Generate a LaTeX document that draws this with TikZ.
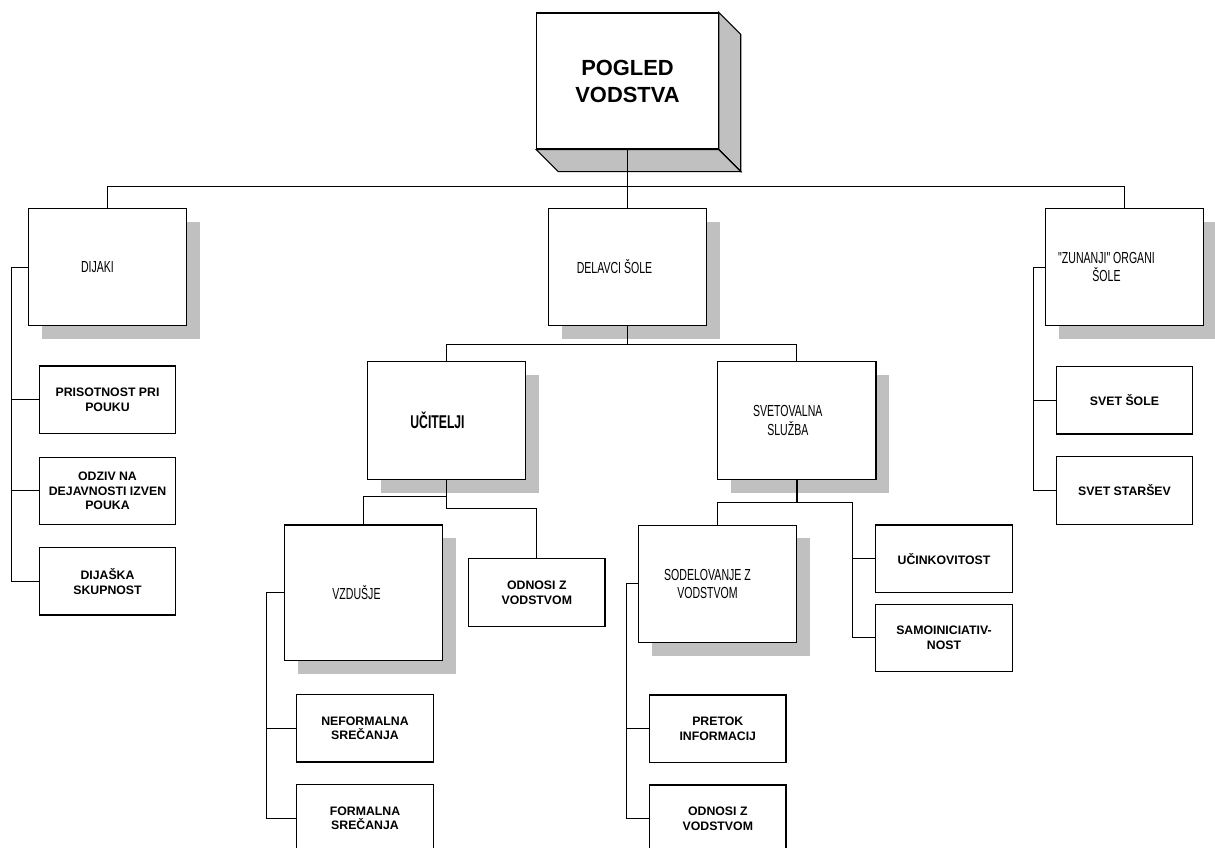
\documentclass[tikz,border=0pt]{standalone}
\usepackage{fontspec}
\setmainfont{Liberation Sans}
\newfontfamily\narrowfamily[FakeStretch=0.66]{Liberation Sans}
\usepackage{tikz}
\usetikzlibrary{positioning,calc,shadows}
\definecolor{shadowgray}{RGB}{192,192,192}
\newcommand{\pogledfont}{\bfseries\fontsize{21.9}{27}\selectfont}
\newcommand{\malifont}{\bfseries\fontsize{12.3}{14.8}\selectfont}
\newcommand{\velikifont}{\narrowfamily\fontsize{16}{18.5}\selectfont}

\begin{document}
\begin{tikzpicture}[x=1pt,y=-1pt,
    bigbox/.style={draw,line width=1.2pt,fill=white,minimum width=158.4,minimum height=117.4,
      drop shadow={shadow xshift=13.3pt,shadow yshift=-13.3pt,fill=shadowgray,opacity=1}},
    bigtext/.style={font=\velikifont,align=center,inner sep=0},
    smallbox/.style={draw,line width=1.2pt,fill=white,minimum width=136.4,minimum height=67.4,
      font=\malifont,align=center,inner sep=0},
    link/.style={line width=0.9pt}]
      \useasboundingbox (0,0) rectangle (1215,847);
      \clip (0,0) rectangle (1215,847);

      \node[draw,line width=1.2pt,fill=white,minimum width=181.3,minimum height=136,
        font=\pogledfont,align=center] (pogled) at (627.5,81) {POGLED\\VODSTVA};
      \filldraw[fill=shadowgray,line width=1.2pt] (pogled.north east) -- ++(22,22)
        -- ([shift={(22,22)}]pogled.south east) -- (pogled.south east) -- cycle;
      \filldraw[fill=shadowgray,line width=1.2pt] (pogled.south west) -- ++(22,22)
        -- ([shift={(22,22)}]pogled.south east) -- (pogled.south east) -- cycle;

      \node[bigbox] (dijaki) at (107.5,267) {};
      \node[bigbox] (delavci) at (627.5,267) {};
      \node[bigbox] (zunanji) at (1124.5,267) {};
      \node[bigbox] (ucitelji) at (446.5,420.5) {};
      \node[bigbox] (svetovalna) at (796.8,420.5) {};
      \node[bigbox,minimum height=135.3] (vzdusje) at (363.5,592.7) {};
      \node[bigbox] (sodelovanje) at (717.5,583.8) {};

      \node[bigtext] (dijaki-t) at ([xshift=-10]dijaki.center) {DIJAKI};
      \node[bigtext] (delavci-t) at ([xshift=-13]delavci.center) {DELAVCI ŠOLE};
      \node[bigtext] (zunanji-t) at ([xshift=-18]zunanji.center) {"ZUNANJI" ORGANI\\ŠOLE};
      \node[bigtext,font=\narrowfamily\bfseries\fontsize{18.5}{21}\selectfont] (ucitelji-t)
        at ([xshift=-9]ucitelji.center) {UČITELJI};
      \node[bigtext] (svetovalna-t) at ([xshift=-9]svetovalna.center) {SVETOVALNA\\SLUŽBA};
      \node[bigtext] (vzdusje-t) at ([xshift=-7]vzdusje.center) {VZDUŠJE};
      \node[bigtext] (sodelovanje-t) at ([xshift=-10]sodelovanje.center) {SODELOVANJE Z\\VODSTVOM};

      \node[smallbox] (prisotnost) at (107.5,399.7) {PRISOTNOST PRI\\POUKU};
      \node[smallbox] (odziv) at (107.5,490.8) {ODZIV NA\\DEJAVNOSTI IZVEN\\POUKA};
      \node[smallbox] (dijaska) at (107.5,581.3) {DIJAŠKA\\SKUPNOST};
      \node[smallbox] (svetsole) at (1124.5,400.3) {SVET ŠOLE};
      \node[smallbox] (svetstarsev) at (1124.5,490.5) {SVET STARŠEV};
      \node[smallbox] (odnosiA) at (536.8,592.5) {ODNOSI Z\\VODSTVOM};
      \node[smallbox] (neformalna) at (365,728.3) {NEFORMALNA\\SREČANJA};
      \node[smallbox] (formalna) at (365,818.3) {FORMALNA\\SREČANJA};
      \node[smallbox] (pretok) at (717.8,728.7) {PRETOK\\INFORMACIJ};
      \node[smallbox] (odnosiB) at (717.8,818.7) {ODNOSI Z\\VODSTVOM};
      \node[smallbox] (ucink) at (944,558.7) {UČINKOVITOST};
      \node[smallbox] (samo) at (944,637.8) {SAMOINICIATIV-\\NOST};

      \coordinate (bus) at (627.5,186);
      \draw[link] (pogled.south) -- (delavci.north);
      \draw[link] (dijaki.north) -- (dijaki.north |- bus) -- (zunanji.north |- bus) -- (zunanji.north);

      \draw[link] (delavci.south) -- ++(0,18) coordinate (dsplit) -| (ucitelji.north);
      \draw[link] (dsplit) -| (svetovalna.north);

      \draw[link] (ucitelji.south) -- ++(0,28.4) -| (odnosiA.north);
      \draw[link] (ucitelji.south) ++(0,17) -| (vzdusje.north);

      \draw[line width=1.8pt] (svetovalna.south) -- ++(0,23) coordinate (ssplit);
      \draw[link] (ssplit) -| (sodelovanje.north);
      \draw[link] (ssplit) -| ([xshift=-23]samo.west) -- (samo.west);
      \draw[link] ([xshift=-23]ucink.west) -- (ucink.west);

      \draw[link] (dijaki.west) -- ++(-16,0) coordinate (dleft) |- (dijaska.west);
      \foreach \n in {prisotnost,odziv}
        \draw[link] (dleft |- \n.west) -- (\n.west);

      \draw[link] (zunanji.west) -- ++(-11,0) coordinate (zleft) |- (svetstarsev.west);
      \draw[link] (zleft |- svetsole.west) -- (svetsole.west);

      \draw[link] (vzdusje.west) -- ++(-17,0) coordinate (vleft) |- (formalna.west);
      \draw[link] (vleft |- neformalna.west) -- (neformalna.west);

      \draw[link] (sodelovanje.west) -- ++(-11,0) coordinate (sleft) |- (odnosiB.west);
      \draw[link] (sleft |- pretok.west) -- (pretok.west);
    \end{tikzpicture}
\end{document}
